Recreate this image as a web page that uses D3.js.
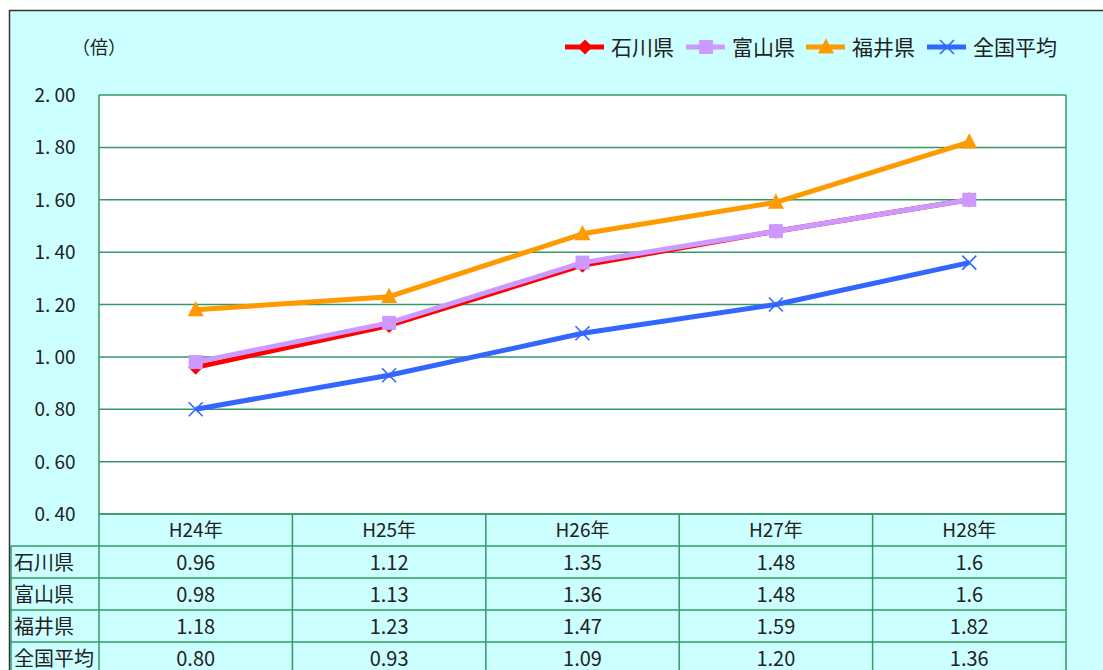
<!DOCTYPE html>
<html>
<head>
<meta charset="utf-8">
<script src="https://cdn.jsdelivr.net/npm/d3@7"></script>
<style>
  body { margin: 0; background: #fff; }
  svg { display: block; }
  text { font-family: "Noto Sans CJK JP", sans-serif; fill: #222; }
</style>
</head>
<body>
<svg id="chart"></svg>
<script>
const years = ['H24年', 'H25年', 'H26年', 'H27年', 'H28年'];
const seriesNames = ['石川県', '富山県', '福井県', '全国平均'];
const ishikawa = [0.96, 1.12, 1.35, 1.48, 1.6];
const toyama = [0.98, 1.13, 1.36, 1.48, 1.6];
const fukui = [1.18, 1.23, 1.47, 1.59, 1.82];
const national = [0.80, 0.93, 1.09, 1.20, 1.36];
const yTicks = [0.4, 0.6, 0.8, 1.0, 1.2, 1.4, 1.6, 1.8, 2.0];

const width = 1103;
const height = 670;
const plot = { left: 99, right: 1066, top: 95, bottom: 514 };
const rowH = 32;

const series = [
  { name: seriesNames[0], values: ishikawa, color: '#ff0000', marker: 'diamond', fmt: v => String(v) },
  { name: seriesNames[1], values: toyama, color: '#cc99ff', marker: 'square', fmt: v => String(v) },
  { name: seriesNames[2], values: fukui, color: '#ff9900', marker: 'triangle', fmt: v => String(v) },
  { name: seriesNames[3], values: national, color: '#3366ff', marker: 'cross', fmt: v => v.toFixed(2) }
];

const svg = d3.select('#chart').attr('width', width).attr('height', height);

// outer frame
svg.append('rect')
  .attr('x', 9.5).attr('y', 10.5)
  .attr('width', width + 20).attr('height', height + 20)
  .attr('fill', '#ccffff')
  .attr('stroke', '#333').attr('stroke-width', 1.5);

const x = d3.scaleBand().domain(years).range([plot.left, plot.right]);
const y = d3.scaleLinear().domain([0.4, 2.0]).range([plot.bottom, plot.top]);
const cx = d => x(d) + x.bandwidth() / 2;

// plot area
svg.append('rect')
  .attr('x', plot.left).attr('y', plot.top)
  .attr('width', plot.right - plot.left).attr('height', plot.bottom - plot.top)
  .attr('fill', '#fff');

svg.append('g')
  .selectAll('line')
  .data(yTicks)
  .enter().append('line')
  .attr('x1', plot.left).attr('x2', plot.right)
  .attr('y1', d => y(d)).attr('y2', d => y(d))
  .attr('stroke', '#339966').attr('stroke-width', 1.5);

svg.append('g')
  .selectAll('line')
  .data([plot.left, plot.right])
  .enter().append('line')
  .attr('x1', d => d).attr('x2', d => d)
  .attr('y1', plot.top).attr('y2', plot.bottom)
  .attr('stroke', '#339966').attr('stroke-width', 1.5);

// y tick labels
svg.append('g')
  .selectAll('text')
  .data(yTicks)
  .enter().append('text')
  .attr('x', 55).attr('y', d => y(d) + 7)
  .attr('text-anchor', 'middle')
  .attr('font-size', 19)
  .text(d => d.toFixed(2).replace('.', '. '));

svg.append('text')
  .attr('x', 99).attr('y', 54)
  .attr('text-anchor', 'middle')
  .attr('font-size', 18)
  .text('（倍）');

// markers
function drawMarker(g, type, color, px, py, s) {
  if (type === 'diamond') {
    g.append('path')
      .attr('d', `M${px},${py - s}L${px + s},${py}L${px},${py + s}L${px - s},${py}Z`)
      .attr('fill', color);
  } else if (type === 'square') {
    g.append('rect')
      .attr('x', px - s).attr('y', py - s)
      .attr('width', s * 2).attr('height', s * 2)
      .attr('fill', color);
  } else if (type === 'triangle') {
    g.append('path')
      .attr('d', `M${px},${py - s * 1.1}L${px + s},${py + s * 0.8}L${px - s},${py + s * 0.8}Z`)
      .attr('fill', color);
  } else {
    g.append('path')
      .attr('d', `M${px - s},${py - s}L${px + s},${py + s}M${px - s},${py + s}L${px + s},${py - s}`)
      .attr('stroke', color).attr('stroke-width', 1.6).attr('fill', 'none');
  }
}

const markerSize = { diamond: 7.5, square: 7, triangle: 8, cross: 7 };

const line = d3.line()
  .x((d, i) => cx(years[i]))
  .y(d => y(d));

series.forEach(s => {
  const g = svg.append('g');
  g.append('path')
    .datum(s.values)
    .attr('d', line)
    .attr('fill', 'none')
    .attr('stroke', s.color)
    .attr('stroke-width', 5)
    .attr('stroke-linejoin', 'round');
  s.values.forEach((v, i) => drawMarker(g, s.marker, s.color, cx(years[i]), y(v), markerSize[s.marker]));
});

// legend
const legendX = [565, 686, 806, 927];
const legend = svg.append('g');
series.forEach((s, i) => {
  const lx = legendX[i];
  legend.append('line')
    .attr('x1', lx).attr('x2', lx + 39)
    .attr('y1', 47).attr('y2', 47)
    .attr('stroke', s.color).attr('stroke-width', 5);
  drawMarker(legend, s.marker, s.color, lx + 20, 47, markerSize[s.marker]);
  legend.append('text')
    .attr('x', lx + 46).attr('y', 55)
    .attr('font-size', 21)
    .text(s.name);
});

// data table
const table = svg.append('g');
const gridColor = '#339966';

table.selectAll('text.year')
  .data(years)
  .enter().append('text')
  .attr('class', 'year')
  .attr('x', d => cx(d))
  .attr('y', plot.bottom + rowH / 2 + 7)
  .attr('text-anchor', 'middle')
  .attr('font-size', 19)
  .text(d => d);

series.forEach((s, r) => {
  const top = plot.bottom + rowH * (r + 1);
  table.append('text')
    .attr('x', 14).attr('y', top + rowH / 2 + 8)
    .attr('font-size', 20)
    .text(s.name);
  table.selectAll(null)
    .data(s.values)
    .enter().append('text')
    .attr('x', (d, i) => cx(years[i]))
    .attr('y', top + rowH / 2 + 8)
    .attr('text-anchor', 'middle')
    .attr('font-size', 20)
    .text(d => s.fmt(d));
});

// table lines
const rowLines = d3.range(0, series.length + 2).map(i => plot.bottom + rowH * i);
table.selectAll('line.row')
  .data(rowLines)
  .enter().append('line')
  .attr('x1', (d, i) => i === 0 ? plot.left : 11)
  .attr('x2', plot.right)
  .attr('y1', d => d).attr('y2', d => d)
  .attr('stroke', gridColor).attr('stroke-width', 1.5);

const colLines = years.map(d => x(d)).concat([plot.right]);
table.selectAll('line.col')
  .data(colLines)
  .enter().append('line')
  .attr('x1', d => d).attr('x2', d => d)
  .attr('y1', plot.bottom).attr('y2', height + 10)
  .attr('stroke', gridColor).attr('stroke-width', 1.5);

table.append('line')
  .attr('x1', 11).attr('x2', 11)
  .attr('y1', plot.bottom + rowH).attr('y2', height + 10)
  .attr('stroke', gridColor).attr('stroke-width', 1.5);
</script>
</body>
</html>
